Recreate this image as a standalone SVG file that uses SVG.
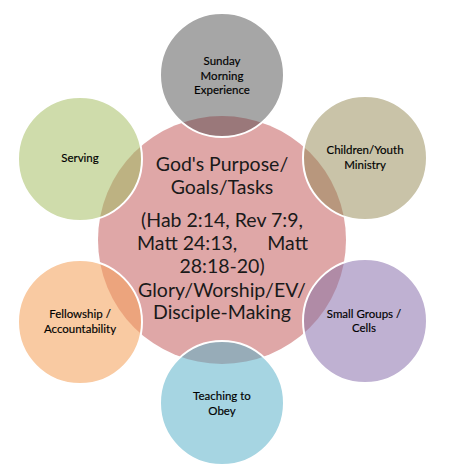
<svg xmlns="http://www.w3.org/2000/svg" width="450" height="476" viewBox="0 0 450 476">
<style>
.lbl{font-family:Lato,"Open Sans","Liberation Sans",sans-serif;font-size:11.5px;fill:#000000;text-anchor:middle;stroke:#000000;stroke-width:0.15}
.main{font-family:Lato,"Open Sans","Liberation Sans",sans-serif;font-size:19.5px;fill:#1a1a1a;text-anchor:middle}
.edge{fill:none;stroke:#ffffff;stroke-width:2}
</style>
<defs>
<clipPath id="core"><circle cx="222" cy="240" r="124"/></clipPath>
</defs>
<rect width="450" height="476" fill="#ffffff"/>
<g id="center">
<circle cx="222" cy="240" r="124" fill="#dfa7a7"/>
</g>
<g id="connectors"></g>
<g id="sunday">
<circle cx="222" cy="75" r="62" fill="#a6a6a6"/>
<circle cx="222" cy="75" r="62" fill="#9a787a" clip-path="url(#core)"/>
<circle cx="222" cy="75" r="62" class="edge"/>
<text class="lbl" x="222" y="65">Sunday</text>
<text class="lbl" x="222" y="80">Morning</text>
<text class="lbl" x="222" y="94">Experience</text>
</g>
<g id="children">
<circle cx="365" cy="158" r="62" fill="#c9c3a8"/>
<circle cx="365" cy="158" r="62" fill="#b8977d" clip-path="url(#core)"/>
<circle cx="365" cy="158" r="62" class="edge"/>
<text class="lbl" x="365" y="154">Children/Youth</text>
<text class="lbl" x="365" y="169">Ministry</text>
</g>
<g id="smallgroups">
<circle cx="365" cy="321" r="62" fill="#bfb1d2"/>
<circle cx="365" cy="321" r="62" fill="#b08ba6" clip-path="url(#core)"/>
<circle cx="365" cy="321" r="62" class="edge"/>
<text class="lbl" x="364" y="318">Small Groups /</text>
<text class="lbl" x="364" y="332">Cells</text>
</g>
<g id="teaching">
<circle cx="222" cy="403" r="62" fill="#a6d5e2"/>
<circle cx="222" cy="403" r="62" fill="#97acb8" clip-path="url(#core)"/>
<circle cx="222" cy="403" r="62" class="edge"/>
<text class="lbl" x="222" y="400">Teaching to</text>
<text class="lbl" x="222" y="415">Obey</text>
</g>
<g id="fellowship">
<circle cx="80" cy="322" r="62" fill="#f9caa2"/>
<circle cx="80" cy="322" r="62" fill="#eca47d" clip-path="url(#core)"/>
<circle cx="80" cy="322" r="62" class="edge"/>
<text class="lbl" x="80" y="318">Fellowship /</text>
<text class="lbl" x="80" y="333">Accountability</text>
</g>
<g id="serving">
<circle cx="80" cy="159" r="62" fill="#cfdcab"/>
<circle cx="80" cy="159" r="62" fill="#bdb282" clip-path="url(#core)"/>
<circle cx="80" cy="159" r="62" class="edge"/>
<text class="lbl" x="80" y="162">Serving</text>
</g>
<g id="center-text">
<text class="main" x="222" y="171">God's Purpose/</text>
<text class="main" x="222" y="194">Goals/Tasks</text>
<text class="main" x="222" y="227">(Hab 2:14, Rev 7:9,</text>
<text class="main" x="137" y="250" style="text-anchor:start">Matt 24:13,</text>
<text class="main" x="308" y="250" style="text-anchor:end">Matt</text>
<text class="main" x="222" y="273">28:18-20)</text>
<text class="main" x="222" y="297">Glory/Worship/EV/</text>
<text class="main" x="222" y="319">Disciple-Making</text>
</g>
</svg>
